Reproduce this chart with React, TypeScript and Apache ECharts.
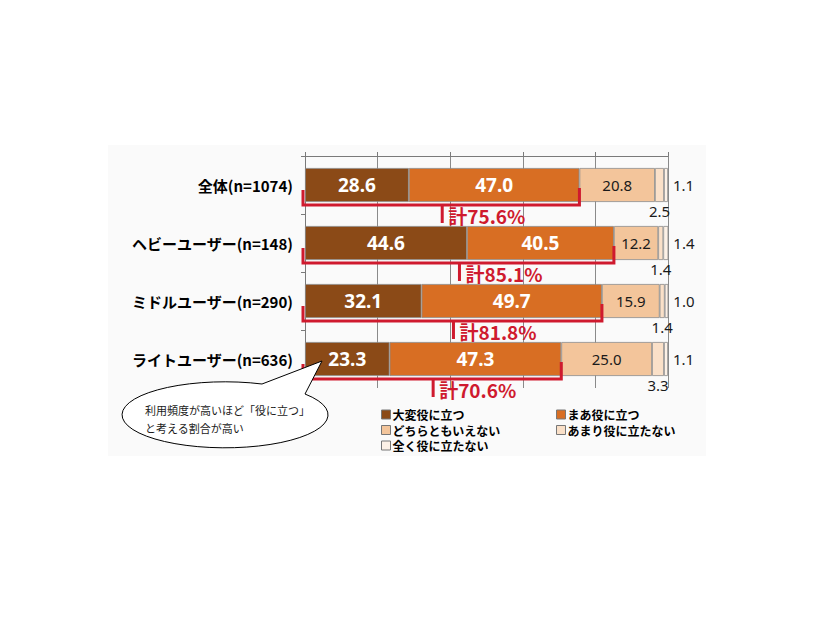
import React, { useEffect, useRef } from "react";
import * as echarts from "echarts";

const categories = ["全体(n=1074)", "ヘビーユーザー(n=148)", "ミドルユーザー(n=290)", "ライトユーザー(n=636)"];
const seriesNames = ["大変役に立つ", "まあ役に立つ", "どちらともいえない", "あまり役に立たない", "全く役に立たない"];
const veryUseful = [28.6, 44.6, 32.1, 23.3];
const somewhatUseful = [47.0, 40.5, 49.7, 47.3];
const neutral = [20.8, 12.2, 15.9, 25.0];
const notVery = [2.5, 1.4, 1.4, 3.3];
const notAtAll = [1.1, 1.4, 1.0, 1.1];
const calloutLines = ["利用頻度が高いほど「役に立つ」", "と考える割合が高い"];

const colors = ["#8B4A17", "#D86E23", "#F3C59B", "#FAE0C8", "#FDF1E6"];
const RED = "#CF1A2E";
const JP = '"Noto Sans CJK JP", "Noto Sans", sans-serif';
const LAT = '"Noto Sans", "Noto Sans CJK JP", sans-serif';

echarts.graphic.registerShape(
  "callout",
  echarts.graphic.extendPath("M 262 384 L 322 361 L 305 394 A 103 33 0 1 1 262 384 Z", {})
);

export default function App() {
  const ref = useRef<HTMLDivElement>(null);
  useEffect(() => {
    document.body.style.margin = "0";
    const chart = echarts.init(ref.current!, null, { renderer: "svg" });
    const totals = veryUseful.map((v, i) => +(v + somewhatUseful[i]).toFixed(1));
    const fmt = (p: any) => Number(p.value).toFixed(1);
    const values = [veryUseful, somewhatUseful, neutral, notVery, notAtAll];
    const labelCfg = [
      { show: true, position: "inside", color: "#FFFFFF", fontSize: 19, fontWeight: "bold", fontFamily: LAT, formatter: fmt },
      { show: true, position: "inside", color: "#FFFFFF", fontSize: 19, fontWeight: "bold", fontFamily: LAT, formatter: fmt },
      { show: true, position: "inside", color: "#1a1a1a", fontSize: 15, fontFamily: LAT, formatter: fmt },
      { show: true, position: "bottom", distance: 1, color: "#1a1a1a", fontSize: 15, fontFamily: LAT, formatter: fmt },
      { show: true, position: "right", distance: 5, color: "#1a1a1a", fontSize: 15, fontFamily: LAT, formatter: fmt },
    ];
    const barSeries = values.map((arr, i) => ({
      name: seriesNames[i],
      type: "bar",
      stack: "total",
      data: arr,
      barWidth: 34,
      itemStyle: { color: colors[i], borderColor: "#8a8a8a", borderWidth: 0.8 },
      label: labelCfg[i],
      z: 2,
    }));
    const legendText = { color: "#000", fontSize: 12, fontWeight: "bold", fontFamily: JP, lineHeight: 13, padding: [0, 0, 0, -3] };
    const option: any = {
      animation: false,
      backgroundColor: "#ffffff",
      grid: { left: 305, right: 158, top: 156, bottom: 232, containLabel: false },
      xAxis: {
        type: "value",
        position: "top",
        min: 0,
        max: 100,
        interval: 20,
        axisLine: { show: true, lineStyle: { color: "#7a7a7a", width: 1 } },
        axisTick: { show: true, length: 4, lineStyle: { color: "#7a7a7a" } },
        axisLabel: { show: false },
        splitLine: { show: true, lineStyle: { color: "#8a8a8a", width: 1 } },
      },
      yAxis: {
        type: "category",
        inverse: true,
        data: categories,
        axisLine: { show: true, lineStyle: { color: "#7a7a7a", width: 1 } },
        axisTick: { show: true, length: 4, lineStyle: { color: "#7a7a7a" } },
        axisLabel: { color: "#000", fontSize: 15, fontWeight: "bold", fontFamily: JP, margin: 12 },
      },
      legend: [
        {
          data: [seriesNames[0], seriesNames[2], seriesNames[4]],
          orient: "vertical",
          left: 376,
          top: 403,
          itemWidth: 9,
          itemHeight: 9,
          itemGap: 2.5,
          icon: "rect",
          itemStyle: { borderColor: "#777", borderWidth: 1 },
          textStyle: legendText,
        },
        {
          data: [seriesNames[1], seriesNames[3]],
          orient: "vertical",
          left: 551,
          top: 403,
          itemWidth: 9,
          itemHeight: 9,
          itemGap: 2.5,
          icon: "rect",
          itemStyle: { borderColor: "#777", borderWidth: 1 },
          textStyle: legendText,
        },
      ],
      series: [
        ...barSeries,
        {
          type: "custom",
          name: "bracket",
          data: totals.map((t, i) => [t, i]),
          encode: { x: 0, y: 1 },
          z: 10,
          clip: false,
          silent: true,
          renderItem: (params: any, api: any) => {
            const total = api.value(0);
            const cat = api.value(1);
            const [xr, yc] = api.coord([total, cat]);
            const [x0] = api.coord([0, cat]);
            const xl = x0 - 2;
            const xm = (x0 + xr) / 2;
            const yb = yc + 20;
            return {
              type: "group",
              children: [
                {
                  type: "polyline",
                  shape: { points: [[xl, yc + 5], [xl, yb], [xr, yb], [xr, yc + 3]] },
                  style: { stroke: RED, lineWidth: 3, fill: null },
                },
                {
                  type: "line",
                  shape: { x1: xm, y1: yb, x2: xm, y2: yc + 38 },
                  style: { stroke: RED, lineWidth: 3 },
                },
                {
                  type: "text",
                  x: xm + 6,
                  y: yc + 30,
                  style: {
                    text: "計" + Number(total).toFixed(1) + "%",
                    fill: RED,
                    font: `bold 19px ${JP}`,
                    verticalAlign: "middle",
                    align: "left",
                  },
                },
              ],
            };
          },
        },
      ],
      graphic: [
        {
          type: "rect",
          z: -10,
          shape: { x: 108, y: 145, width: 598, height: 311 },
          style: { fill: "#FAFAFA" },
          silent: true,
        },
        {
          type: "callout",
          x: 0,
          y: 0,
          z: 100,
          style: { fill: "#ffffff", stroke: "#000", lineWidth: 1 },
        },
        {
          type: "text",
          x: 145,
          y: 410,
          z: 101,
          style: { text: calloutLines[0], fill: "#1a1a1a", font: `11px ${JP}`, verticalAlign: "middle" },
        },
        {
          type: "text",
          x: 145,
          y: 428,
          z: 101,
          style: { text: calloutLines[1], fill: "#1a1a1a", font: `11px ${JP}`, verticalAlign: "middle" },
        },
      ],
    };
    chart.setOption(option);
    return () => chart.dispose();
  }, []);
  return <div ref={ref} style={{ width: 826, height: 620 }} />;
}
